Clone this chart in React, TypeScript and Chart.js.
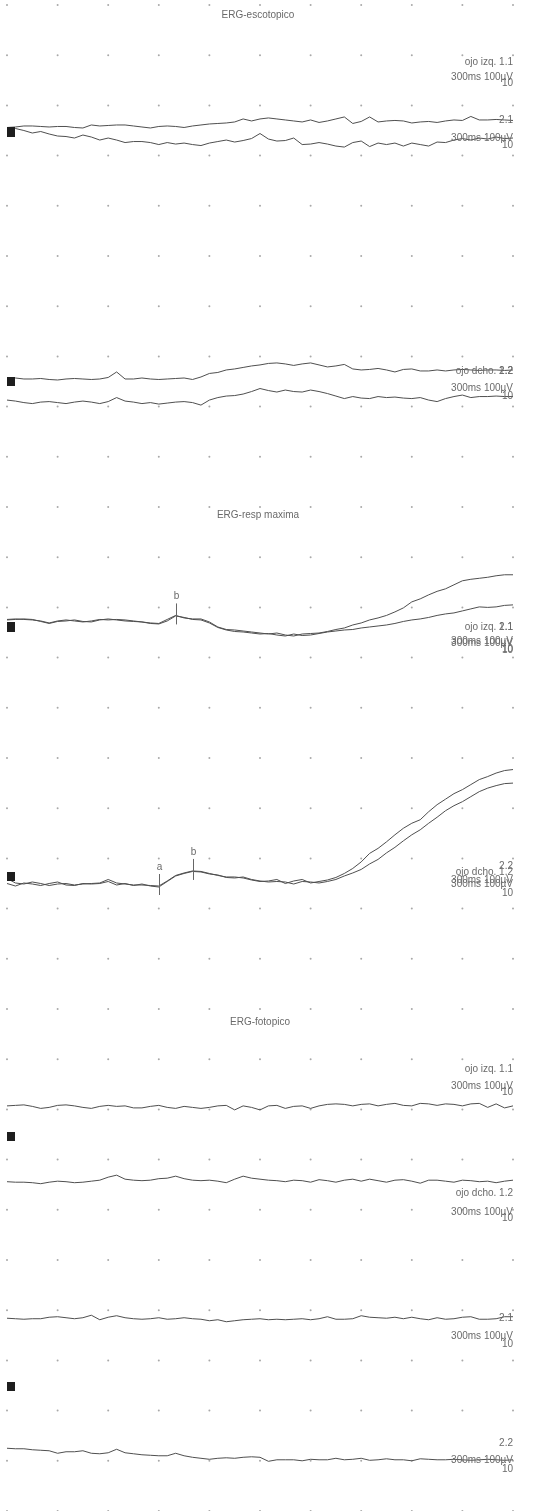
import React, { useEffect, useRef } from "react";
import { Chart, registerables } from "chart.js";

Chart.register(...registerables);

// ---- sampling clock (ms) : sweep 300 ms, 10 divisions of 30 ms ----
const TIME_MS = Array.from({ length: 61 }, (_, i) => i * 5);

// ---- amplitudes in µV (100 µV / division) ----
// ERG-escotopico
const ESC_OI_11 = [0,1,3,3,2,1,2,2,0,-1,5,3,4,5,5,3,1,-1,2,3,2,0,3,5,7,8,9,11,17,13,17,19,17,15,13,11,15,10,13,17,21,8,12,21,11,13,14,13,9,11,12,10,13,15,14,22,15,15,16,15,14];
const ESC_OI_21 = [0,-2,-6,-11,-8,-13,-17,-18,-21,-15,-19,-25,-21,-25,-30,-28,-28,-30,-34,-30,-33,-31,-34,-36,-31,-28,-25,-29,-26,-22,-12,-23,-27,-26,-21,-34,-33,-30,-33,-37,-39,-30,-27,-38,-31,-34,-31,-37,-31,-34,-37,-29,-30,-25,-22,-25,-21,-23,-19,-22,-21];
const ESC_OD_12 = [0,1,-1,-1,0,-2,-3,-1,0,-1,-2,-1,2,13,-1,-1,1,-1,-2,-1,0,1,-2,3,10,12,17,19,22,25,27,30,31,29,26,29,31,27,23,25,28,19,17,18,20,17,13,18,19,15,15,17,15,17,18,17,16,17,17,16,17];
const ESC_OD_22 = [0,-2,-5,-7,-4,-3,-5,-7,-4,-2,-4,-7,-3,5,-2,-4,-7,-5,-8,-6,-4,-3,-5,-10,0,5,8,9,12,17,23,19,16,20,17,16,20,17,13,8,3,7,4,3,7,5,6,4,3,5,0,-3,3,7,10,5,7,7,8,7,7];
// ERG-resp maxima
const MAX_OI_11 = [0,1,0,-1,-3,-7,-3,-1,-3,-5,-3,0,-1,0,-1,-3,-5,-7,-8,0,8,3,1,1,-5,-15,-20,-21,-23,-25,-27,-29,-27,-31,-33,-29,-28,-27,-24,-20,-17,-11,-7,-1,3,8,15,23,35,41,49,56,61,69,77,80,82,84,87,89,89];
const MAX_OI_21 = [-1,0,1,0,-4,-8,-4,-3,-1,-4,-5,-1,1,-1,-3,-4,-5,-8,-9,-3,7,4,0,-1,-7,-16,-21,-24,-25,-27,-29,-28,-31,-33,-29,-32,-31,-28,-25,-23,-21,-20,-17,-15,-13,-11,-8,-4,-1,1,4,8,11,13,17,21,25,24,25,28,29];
const MAX_OD_12 = [10,1,-1,3,0,-4,-1,0,-3,-1,0,1,8,1,-1,-3,-3,-4,-5,5,16,21,25,24,20,16,13,13,11,7,4,5,8,0,5,8,1,4,7,12,20,30,43,60,70,83,97,110,120,127,143,157,168,179,187,197,207,213,220,225,227];
const MAX_OD_22 = [0,-5,1,-1,-4,0,3,-3,-4,0,-1,0,4,-3,0,-4,-1,-5,-7,4,15,20,24,23,19,17,12,11,13,8,5,3,4,3,-1,4,3,1,4,8,15,21,28,39,48,61,72,85,97,107,120,132,145,155,163,173,183,190,195,199,200];
// ERG-fotopico
const FOT_OI_11 = [0,1,2,-1,-5,-3,1,2,0,-3,-5,-1,1,-1,0,-4,-4,-1,1,-3,-5,-1,-3,-5,-3,0,1,-8,0,-3,-8,0,1,-5,-1,0,-5,0,3,4,3,0,3,4,0,3,5,1,0,5,4,1,4,3,0,4,5,-3,4,-4,0];
const FOT_OD_12 = [0,-1,-1,-2,-4,-1,1,0,-2,-1,1,3,9,13,5,3,2,3,6,7,11,6,3,2,3,1,-2,5,11,7,5,3,2,0,3,2,-1,4,2,-1,3,5,1,5,2,-1,3,4,1,-3,3,3,1,-1,3,2,0,1,-2,1,3];
const FOT_OI_21 = [0,-1,-2,-1,-1,2,3,1,-1,1,6,-3,2,5,1,-1,-2,-1,1,-2,-1,1,-1,-2,-5,-3,-7,-5,-3,-2,-1,-3,-2,-3,-2,-1,-3,-1,3,-2,-2,-1,5,2,1,0,2,-1,2,-1,-3,1,-2,-1,2,3,-2,-2,-1,3,3];
const FOT_OD_22 = [0,-1,-1,-3,-4,-5,-10,-7,-7,-5,-10,-11,-9,-2,-9,-11,-13,-14,-15,-15,-10,-15,-18,-20,-22,-20,-19,-20,-18,-17,-18,-26,-23,-23,-23,-25,-22,-23,-23,-20,-23,-22,-20,-24,-23,-21,-23,-23,-25,-21,-22,-23,-23,-22,-23,-24,-23,-22,-23,-24,-23];

// ---- page layout: each channel is drawn on a common paper scale (µV) ----
const X_MAX = 300;
const Y_MAX = 3000;
const GRID_X_STEP = 30;
const GRID_Y_STEP = 100;

const CHANNELS = [
  { id: "esc11", values: ESC_OI_11, offset: 2756 },
  { id: "esc21", values: ESC_OI_21, offset: 2756 },
  { id: "esc12", values: ESC_OD_12, offset: 2256 },
  { id: "esc22", values: ESC_OD_22, offset: 2213 },
  { id: "max11", values: MAX_OI_11, offset: 1776 },
  { id: "max21", values: MAX_OI_21, offset: 1776 },
  { id: "max12", values: MAX_OD_12, offset: 1250 },
  { id: "max22", values: MAX_OD_22, offset: 1250 },
  { id: "fot11", values: FOT_OI_11, offset: 807 },
  { id: "fot12", values: FOT_OD_12, offset: 656 },
  { id: "fot21", values: FOT_OI_21, offset: 384 },
  { id: "fot22", values: FOT_OD_22, offset: 125 },
];

// peak markers (a / b waves)
const PEAK_MARKERS = [
  { channel: "max11", t: 100, label: "b" },
  { channel: "max12", t: 90, label: "a" },
  { channel: "max12", t: 110, label: "b" },
];

// titles (page px)
const TITLES = [
  { text: "ERG-escotopico", x: 258, y: 15 },
  { text: "ERG-resp maxima", x: 258, y: 515 },
  { text: "ERG-fotopico", x: 260, y: 1022 },
];

// right-hand channel labels (page px, right aligned)
const SIDE_LABELS: [string, number][] = [
  ["ojo izq. 1.1", 62], ["300ms 100µV", 77], ["10", 83],
  ["2.1", 120], ["300ms 100µV", 138], ["10", 145],
  ["ojo dcho. 1.2", 371], ["2.2", 371], ["300ms 100µV", 388], ["10", 396],
  ["ojo izq. 1.1", 627], ["2.1", 627], ["300ms 100µV", 641], ["300ms 100µV", 643], ["10", 649], ["10", 650.5],
  ["2.2", 866], ["ojo dcho. 1.2", 872], ["300ms 100µV", 880], ["300ms 100µV", 884], ["10", 893],
  ["ojo izq. 1.1", 1069], ["300ms 100µV", 1086], ["10", 1092],
  ["ojo dcho. 1.2", 1193], ["300ms 100µV", 1212], ["10", 1218],
  ["2.1", 1318], ["300ms 100µV", 1336], ["10", 1344],
  ["2.2", 1443], ["300ms 100µV", 1460], ["10", 1469],
];

// stimulus markers (black squares), top edge in page px
const STIM_MARKS = [
  { top: 127, h: 10 },
  { top: 377, h: 9 },
  { top: 622, h: 10 },
  { top: 872, h: 9 },
  { top: 1132, h: 9 },
  { top: 1382, h: 9 },
];

const FONT = '10px "Liberation Sans", Arial, sans-serif';
const TEXT_COLOR = "#6a6a6a";
const TRACE_COLOR = "#4f4f4f";

const decorPlugin = {
  id: "ergDecor",
  beforeDraw(chart: any) {
    const { ctx, width, height } = chart;
    ctx.save();
    ctx.fillStyle = "#ffffff";
    ctx.fillRect(0, 0, width, height);
    ctx.restore();
  },
  beforeDatasetsDraw(chart: any) {
    const { ctx } = chart;
    const xs = chart.scales.x;
    const ys = chart.scales.y;
    ctx.save();
    ctx.fillStyle = "#a9a9a9";
    for (let t = 0; t <= X_MAX; t += GRID_X_STEP) {
      for (let v = 0; v <= Y_MAX; v += GRID_Y_STEP) {
        const px = xs.getPixelForValue(t);
        const py = ys.getPixelForValue(v);
        ctx.beginPath();
        ctx.arc(px, py, 1, 0, Math.PI * 2);
        ctx.fill();
      }
    }
    ctx.restore();
  },
  afterDatasetsDraw(chart: any) {
    const { ctx, chartArea } = chart;
    const xs = chart.scales.x;
    const ys = chart.scales.y;
    ctx.save();
    // stimulus squares
    ctx.fillStyle = "#1e1e1e";
    STIM_MARKS.forEach((m) => {
      ctx.fillRect(chartArea.left, m.top, 8, m.h);
    });
    // peak markers
    ctx.strokeStyle = "#666";
    ctx.lineWidth = 1;
    ctx.font = FONT;
    ctx.fillStyle = TEXT_COLOR;
    ctx.textAlign = "center";
    ctx.textBaseline = "middle";
    PEAK_MARKERS.forEach((m) => {
      const ch = CHANNELS.find((c) => c.id === m.channel)!;
      const idx = TIME_MS.indexOf(m.t);
      const px = Math.round(xs.getPixelForValue(m.t)) + 0.5;
      const py = ys.getPixelForValue(ch.offset + ch.values[idx]);
      ctx.beginPath();
      ctx.moveTo(px, py - 12);
      ctx.lineTo(px, py + 9);
      ctx.stroke();
      ctx.fillText(m.label, px, py - 19);
    });
    // titles
    TITLES.forEach((t) => ctx.fillText(t.text, t.x, t.y));
    // side labels
    ctx.textAlign = "right";
    const right = xs.getPixelForValue(X_MAX);
    SIDE_LABELS.forEach(([text, y]) => ctx.fillText(text, right, y));
    ctx.restore();
  },
};

export default function App() {
  const ref = useRef<HTMLCanvasElement | null>(null);
  useEffect(() => {
    document.body.style.margin = "0";
    const canvas = ref.current;
    if (!canvas) return;
    const datasets = CHANNELS.map((ch) => ({
      label: ch.id,
      data: TIME_MS.map((t, i) => ({ x: t, y: ch.offset + ch.values[i] })),
      borderColor: TRACE_COLOR,
      borderWidth: 1,
      pointRadius: 0,
      tension: 0,
      fill: false,
    }));
    const chart = new Chart(canvas, {
      type: "line",
      data: { datasets },
      options: {
        animation: false,
        responsive: false,
        devicePixelRatio: 1,
        parsing: true,
        layout: { padding: { left: 7, right: 44, top: 5, bottom: 0 } },
        plugins: { legend: { display: false }, tooltip: { enabled: false } },
        scales: {
          x: { type: "linear", min: 0, max: X_MAX, display: false },
          y: { type: "linear", min: 0, max: Y_MAX, display: false },
        },
      },
      plugins: [decorPlugin],
    } as any);
    return () => chart.destroy();
  }, []);
  return (
    <canvas
      ref={ref}
      width={557}
      height={1511}
      style={{ position: "absolute", left: 0, top: 0, width: 557, height: 1511 }}
    />
  );
}
